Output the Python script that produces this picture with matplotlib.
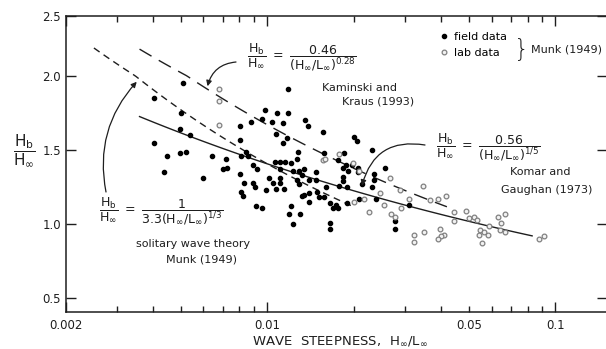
import numpy as np
import matplotlib.pyplot as plt
from matplotlib.ticker import FixedLocator, NullLocator, FixedFormatter

plt.rcParams['font.family'] = 'DejaVu Sans'
plt.rcParams['mathtext.fontset'] = 'dejavusans'
plt.rcParams['mathtext.default'] = 'regular'

# field data, Munk (1949)
field_x = [0.00403, 0.00508, 0.0050, 0.00496, 0.00537, 0.00403, 0.00447, 0.00496, 0.0052, 0.00437,
           0.00645, 0.00721, 0.00596, 0.00699, 0.00727, 0.00806, 0.00806, 0.0088, 0.00961, 0.00984,
           0.0104, 0.0108, 0.0118, 0.0113, 0.0107, 0.0113, 0.0117, 0.0118, 0.0128, 0.0127,
           0.0135, 0.0138, 0.0156, 0.0157, 0.0084, 0.0086, 0.00813, 0.00895, 0.00923, 0.00806,
           0.0106, 0.0111, 0.0115, 0.0121, 0.0111, 0.0123, 0.0129, 0.0134, 0.0101, 0.0105,
           0.0111, 0.0111, 0.00833, 0.00895, 0.00909, 0.00992, 0.0107, 0.0114, 0.00813, 0.0082,
           0.0127, 0.0132, 0.0129, 0.0140, 0.0147, 0.0147, 0.0149, 0.0151, 0.0132, 0.0134,
           0.0140, 0.0139, 0.0157, 0.0160, 0.00916, 0.00961, 0.0121, 0.0119, 0.0130, 0.0123,
           0.0165, 0.0165, 0.0165, 0.0169, 0.0176, 0.0183, 0.0191, 0.0197, 0.0188, 0.0206,
           0.0206, 0.0183, 0.0183, 0.0177, 0.0189, 0.0235, 0.0235, 0.0256, 0.0231, 0.0238,
           0.0208, 0.0189, 0.0173, 0.0176, 0.0310, 0.0277, 0.0277, 0.0200, 0.0205, 0.0231,
           0.0185, 0.0213]
field_y = [1.85, 1.95, 1.75, 1.64, 1.60, 1.55, 1.46, 1.48, 1.49, 1.35,
           1.46, 1.44, 1.31, 1.37, 1.38, 1.66, 1.57, 1.69, 1.71, 1.77,
           1.69, 1.75, 1.75, 1.68, 1.61, 1.55, 1.58, 1.91, 1.49, 1.44,
           1.70, 1.66, 1.62, 1.48, 1.49, 1.46, 1.46, 1.40, 1.37, 1.34,
           1.42, 1.42, 1.42, 1.41, 1.37, 1.36, 1.36, 1.37, 1.31, 1.28,
           1.31, 1.28, 1.28, 1.28, 1.25, 1.23, 1.24, 1.24, 1.22, 1.19,
           1.30, 1.33, 1.27, 1.30, 1.30, 1.35, 1.22, 1.18, 1.19, 1.20,
           1.21, 1.15, 1.18, 1.25, 1.12, 1.11, 1.12, 1.07, 1.07, 1.00,
           1.01, 0.97, 1.14, 1.11, 1.43, 1.38, 1.36, 1.40, 1.40, 1.38,
           1.35, 1.32, 1.29, 1.26, 1.25, 1.34, 1.30, 1.38, 1.25, 1.17,
           1.17, 1.14, 1.13, 1.11, 1.13, 1.02, 0.97, 1.59, 1.56, 1.50,
           1.48, 1.27]

# lab data, Munk (1949)
lab_x = [0.00682, 0.00682, 0.00682, 0.0156, 0.0177, 0.0208, 0.0198, 0.0159, 0.0266, 0.0246,
         0.0289, 0.0347, 0.0310, 0.0366, 0.0254, 0.0291, 0.0200, 0.0217, 0.0225, 0.0269,
         0.0277, 0.0349, 0.0323, 0.0323, 0.0416, 0.0391, 0.0444, 0.0444, 0.0488, 0.0500,
         0.0520, 0.0533, 0.0546, 0.0542, 0.0564, 0.0582, 0.0555, 0.0586, 0.0630, 0.0666,
         0.0645, 0.0640, 0.0666, 0.0397, 0.0410, 0.0400, 0.0391, 0.0874, 0.0909]
lab_y = [1.91, 1.83, 1.67, 1.43, 1.47, 1.36, 1.41, 1.44, 1.31, 1.21,
         1.23, 1.26, 1.17, 1.16, 1.13, 1.11, 1.15, 1.17, 1.08, 1.07,
         1.05, 0.95, 0.93, 0.88, 1.19, 1.17, 1.08, 1.02, 1.09, 1.04,
         1.05, 1.03, 0.96, 0.93, 0.95, 0.93, 0.87, 0.99, 1.05, 1.07,
         1.01, 0.96, 0.95, 0.97, 0.93, 0.92, 0.90, 0.90, 0.92]

# extent of each curve (wave steepness)
solitary_range = [0.0025, 0.020]
kaminski_range = [0.0036, 0.042]
komar_range = [0.0036, 0.083]

ink = '#1e1e1e'
W, H = 606, 349


def fxy(px, py):
    return (px / W, 1 - py / H)


# the original y axis is squeezed above 2.0
K = 60 / 74.35


def fwd(y):
    y = np.asarray(y, dtype=float)
    return np.where(y > 2, 2 + (y - 2) * K, y)


def inv(u):
    u = np.asarray(u, dtype=float)
    return np.where(u > 2, 2 + (u - 2) / K, u)


fig = plt.figure(figsize=(W / 100, H / 100), dpi=100)
ax = fig.add_axes([66 / W, 37 / H, 541 / W, 296 / H])
ax.set_xscale('log')
ax.set_yscale('function', functions=(fwd, inv))
ax.set_xlim(0.002, 0.151)
ax.set_ylim(0.408, 2.5)

# curves
x = np.logspace(np.log10(solitary_range[0]), np.log10(solitary_range[1]), 100)
ax.plot(x, 1 / (3.3 * x ** (1 / 3)), color=ink, lw=1.0, dashes=(5, 3.5))
x = np.logspace(np.log10(kaminski_range[0]), np.log10(kaminski_range[1]), 100)
ax.plot(x, 0.46 / x ** 0.28, color=ink, lw=1.0, dashes=(10, 6))
x = np.logspace(np.log10(komar_range[0]), np.log10(komar_range[1]), 100)
ax.plot(x, 0.56 / x ** 0.2, color=ink, lw=1.0)

# data
hf, = ax.plot(field_x, field_y, 'o', ms=3.0, color='black', mec='black', label='field data')
hl, = ax.plot(lab_x, lab_y, 'o', ms=3.4, mfc='#f2f2f2', mec='#808080', mew=0.9, label='lab data')

# axes styling
for s in ax.spines.values():
    s.set_linewidth(1.1)
    s.set_color(ink)
ax.xaxis.set_major_locator(FixedLocator([0.002, 0.01, 0.1]))
ax.xaxis.set_major_formatter(FixedFormatter(['0.002', '0.01', '0.1']))
minors = [m * d for d in (0.001, 0.01, 0.1) for m in range(2, 10)]
minors = [v for v in minors if v not in (0.002,)]
ax.xaxis.set_minor_locator(FixedLocator(minors))
ax.xaxis.set_minor_formatter(FixedFormatter(['0.05' if abs(v - 0.05) < 1e-9 else '' for v in minors]))
ax.set_yticks([0.5, 1.0, 1.5, 2.0, 2.5])
ax.set_yticklabels(['0.5', '1.0', '1.5', '2.0', '2.5'])
ax.yaxis.set_minor_locator(NullLocator())
ax.tick_params(which='both', direction='in', top=True, right=True, colors=ink, labelsize=8.5, width=1.0)
ax.tick_params(which='major', length=7)
ax.tick_params(which='minor', length=4.5)
ax.tick_params(axis='x', which='both', pad=5)

# axis titles
fig.text(*fxy(24, 150), r'$\dfrac{H_b}{H_\infty}$', fontsize=11, ha='center', va='center', color=ink)
fig.text(*fxy(340, 341), r'WAVE  STEEPNESS,  H$_\infty$/L$_\infty$', fontsize=9.5,
         ha='center', va='center', color=ink)

# equations and notes
fs = 8
efs = 9
fig.text(*fxy(302, 57), r'$\dfrac{H_b}{H_\infty}\ =\ \dfrac{0.46}{(H_\infty/L_\infty)^{0.28}}$',
         fontsize=efs, ha='center', va='center', color=ink)
fig.text(*fxy(360, 88), 'Kaminski and', fontsize=fs, ha='center', va='center', color=ink)
fig.text(*fxy(378, 101), 'Kraus (1993)', fontsize=fs, ha='center', va='center', color=ink)

fig.text(*fxy(488, 147), r'$\dfrac{H_b}{H_\infty}\ =\ \dfrac{0.56}{(H_\infty/L_\infty)^{1/5}}$',
         fontsize=efs, ha='center', va='center', color=ink)
fig.text(*fxy(540, 172), 'Komar and', fontsize=fs, ha='center', va='center', color=ink)
fig.text(*fxy(547, 190), 'Gaughan (1973)', fontsize=fs, ha='center', va='center', color=ink)

fig.text(*fxy(161, 211), r'$\dfrac{H_b}{H_\infty}\ =\ \dfrac{1}{3.3(H_\infty/L_\infty)^{1/3}}$',
         fontsize=efs, ha='center', va='center', color=ink)
fig.text(*fxy(193, 244), 'solitary wave theory', fontsize=fs, ha='center', va='center', color=ink)
fig.text(*fxy(202, 260), 'Munk (1949)', fontsize=fs, ha='center', va='center', color=ink)

# arrows
arrow = dict(arrowstyle='-|>', color=ink, lw=0.9, mutation_scale=8, shrinkA=0, shrinkB=0)
ax.annotate('', xy=(0.0062, 1.93), xytext=fxy(236, 62), textcoords='figure fraction',
            arrowprops=dict(arrow, connectionstyle='arc3,rad=0.35'))
ax.annotate('', xy=(0.0213, 1.26), xytext=fxy(425, 145), textcoords='figure fraction',
            arrowprops=dict(arrow, connectionstyle='arc3,rad=0.45'))
ax.annotate('', xy=(0.00352, 1.96), xytext=fxy(106, 192), textcoords='figure fraction',
            arrowprops=dict(arrow, connectionstyle='arc3,rad=-0.25'))

# legend
ax.legend(handles=[hf, hl], loc='upper left', bbox_to_anchor=fxy(440, 32),
          bbox_transform=fig.transFigure, frameon=False, fontsize=fs, handlelength=0.8,
          handletextpad=0.5, labelspacing=0.55, borderpad=0, borderaxespad=0)
fig.text(*fxy(522, 50), '}', fontsize=17, ha='center', va='center', color=ink, fontweight='light')
fig.text(*fxy(531, 50), 'Munk (1949)', fontsize=fs, ha='left', va='center', color=ink)

fig.savefig('out.png', dpi=100)
